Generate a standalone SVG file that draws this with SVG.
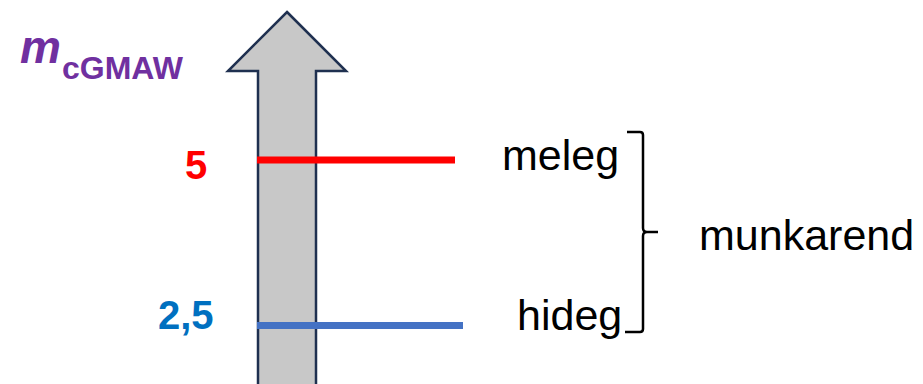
<svg xmlns="http://www.w3.org/2000/svg" width="923" height="384" viewBox="0 0 923 384">
<style>
.lbl{font-family:"Liberation Sans",Arial,sans-serif;font-size:43px;fill:#000}
.num{font-family:"Liberation Sans",Arial,sans-serif;font-size:40px;font-weight:bold}
.sym{font-family:"Liberation Sans",Arial,sans-serif;font-weight:bold;fill:#7030A0}
</style>
<rect width="923" height="384" fill="#fff"/>
<g id="axis">
<polygon points="287,12 346,71 316,71 316,390 258,390 258,71 228,71" fill="#C8C8C8" stroke="#1F3050" stroke-width="2.5" stroke-linejoin="miter"/>
</g>
<g id="title">
<text class="sym" x="20" y="63" font-size="46" font-style="italic">m</text>
<text class="sym" x="62" y="79" font-size="32">cGMAW</text>
</g>
<g id="connectors">
<line x1="257" y1="160" x2="455" y2="160" stroke="#FF0000" stroke-width="7"/>
<line x1="257" y1="325.5" x2="463" y2="325.5" stroke="#4472C4" stroke-width="7"/>
<path d="M627,132 H640 Q643,132 643,135 V228 Q643,232 647,232 H658 M647,232 Q643,232 643,236 V329 Q643,332 640,332 H625" fill="none" stroke="#000" stroke-width="2.5"/>
</g>
<g id="level-warm">
<text class="num" x="185" y="179" fill="#FF0000">5</text>
<text class="lbl" x="502" y="170">meleg</text>
</g>
<g id="level-cold">
<text class="num" x="158" y="329" fill="#0070C0">2,5</text>
<text class="lbl" x="517" y="330">hideg</text>
</g>
<g id="group-label">
<text class="lbl" x="699" y="250" font-size="44">munkarend</text>
</g>
</svg>
